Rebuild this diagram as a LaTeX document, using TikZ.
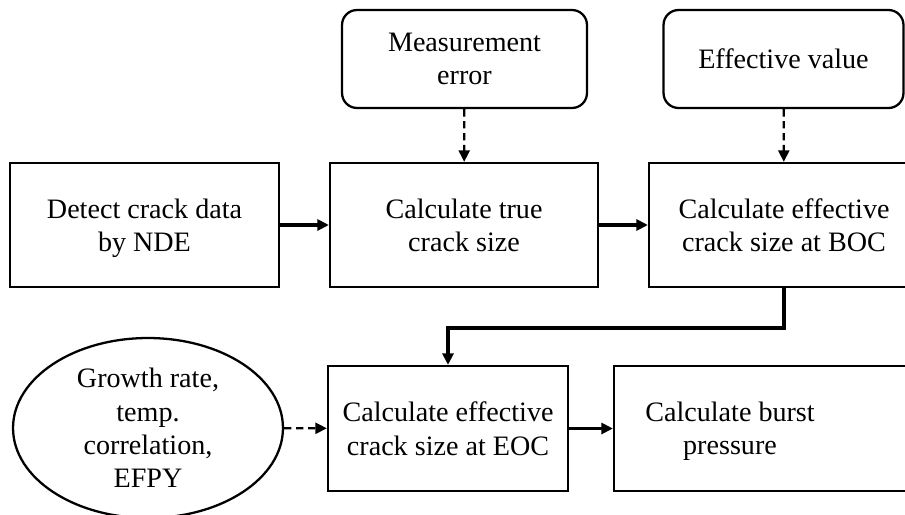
\documentclass[tikz,border=0pt]{standalone}
\usepackage{fontspec}
\setmainfont{Liberation Serif}
\usepackage{tikz}
\usetikzlibrary{arrows.meta, shapes.geometric}
\newcommand{\padright}{\rule{1.48cm}{0pt}}
\tikzset{
    common/.style={draw, line width=1.3pt, align=center, font=\fontsize{16}{19}\selectfont, inner sep=0pt, text depth=0pt},
    proc/.style={common, rectangle, minimum height=2.48cm},
    src/.style={common, rectangle, rounded corners=0.3cm, minimum height=1.96cm},
    param/.style={common, ellipse, minimum width=5.4cm, minimum height=3.6cm},
    flow/.style={line width=1.9pt, -{Triangle[length=2.3mm, width=2.2mm]}},
    dflow/.style={line width=1.3pt, dash pattern=on 4.2pt off 2.6pt, -{Triangle[length=2.3mm, width=2.2mm]}}
}

\begin{document}
\begin{tikzpicture}[x=0.02cm, y=-0.02cm]
            \useasboundingbox (0,0) rectangle (905,514);
            \clip (0,0) rectangle (905,514);

            % inputs on top
            \node[src, minimum width=4.9cm] (merr) at (464.5,59) {Measurement\\error};
            \node[src, minimum width=4.8cm] (effval) at (783.5,59) {Effective value};

            % first row
            \node[proc, minimum width=5.38cm] (detect) at (144.5,225) {Detect crack data\\by NDE};
            \node[proc, minimum width=5.36cm] (truesize) at (464,225) {Calculate true\\crack size};
            \node[proc, minimum width=5.4cm] (boc) at (784,225) {Calculate effective\\crack size at BOC};

            % second row
            \node[param] (rate) at (148,428) {Growth rate,\\temp.\\correlation,\\EFPY};
            \node[proc, minimum width=4.8cm, minimum height=2.5cm] (eoc) at (448,428.5) {Calculate effective\\crack size at EOC};
            \node[proc, minimum width=6.12cm, minimum height=2.5cm] (burst) at (767,428.5)
                {Calculate burst\padright\\pressure\padright};

            \draw[flow] (detect) -- (truesize);
            \draw[flow] (truesize) -- (boc);
            \draw[dflow] (merr) -- (truesize);
            \draw[dflow] (effval) -- (boc);
            \draw[flow] (boc.south) -- ++(0,40) -| (eoc.north);
            \draw[dflow] (rate) -- (eoc);
            \draw[flow] (eoc) -- (burst);

        \end{tikzpicture}
\end{document}
